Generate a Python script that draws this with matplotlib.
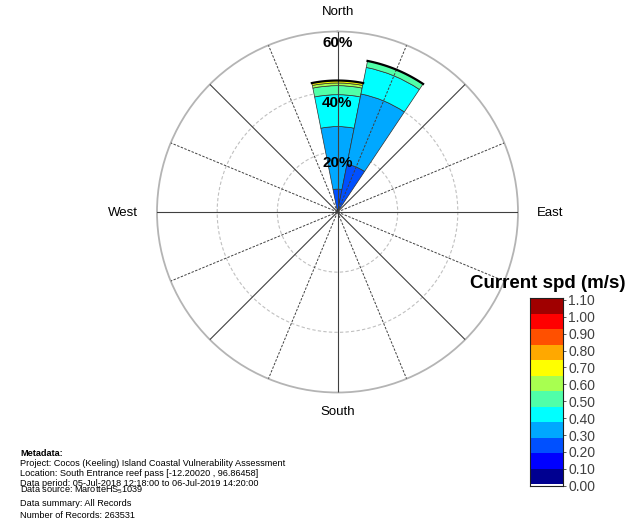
import numpy as np
import matplotlib
matplotlib.use('Agg')
import matplotlib.pyplot as plt

plt.rcParams['font.family'] = ['Liberation Sans', 'DejaVu Sans']
plt.rcParams['mathtext.fontset'] = 'custom'
plt.rcParams['mathtext.rm'] = 'Liberation Sans'
plt.rcParams['mathtext.it'] = 'Liberation Sans'

# ---------------- data ----------------
speed_edges = [0.00, 0.10, 0.20, 0.30, 0.40, 0.50, 0.60, 0.70, 0.80, 0.90, 1.00, 1.10]
speed_colors = ['#000090', '#0000ff', '#0050ff', '#00a8ff', '#00ffff', '#50ffa8',
                '#a8ff50', '#ffff00', '#ffa800', '#ff5000', '#ff0000', '#a00000']
dir_centers = [0.0, 22.5]          # degrees (North, NNE)
freq_N   = [0.2, 0.5, 6.9, 20.8, 10.6, 3.0, 0.9, 0.8, 0.0, 0.0, 0.0, 0.0]
freq_NNE = [0.0, 0.0, 16.2, 23.8, 9.0, 2.2, 0.0, 0.0, 0.0, 0.0, 0.0, 0.0]
freq_table = [freq_N, freq_NNE]
ring_levels = [20, 40, 60]
sector_width = 22.5
compass_labels = ['North', 'East', 'South', 'West']

metadata_lines = [
    'Project: Cocos (Keeling) Island Coastal Vulnerability Assessment',
    'Location: South Entrance reef pass [-12.20020 , 96.86458]',
    'Data period: 05-Jul-2018 12:18:00 to 06-Jul-2019 14:20:00',
    r'Data source: MarotteHS$_5$1039',
    'Data summary: All Records',
    'Number of Records: 263531',
]

# ---------------- figure ----------------
W, H = 635, 525
fig = plt.figure(figsize=(W / 100, H / 100), dpi=100)
fig.patch.set_facecolor('white')

cx, cy, R = 337.5, 212.0, 180.5
ax = fig.add_axes([(cx - R) / W, 1 - (cy + R) / H, 2 * R / W, 2 * R / H],
                  projection='polar')
ax.set_theta_zero_location('N')
ax.set_theta_direction(-1)
ax.set_ylim(0, 60)
ax.grid(False)
ax.set_xticks([])
ax.set_yticks([])
ax.spines['polar'].set_color('#b4b4b4')
ax.spines['polar'].set_linewidth(1.3)

# bars
w = np.deg2rad(sector_width)
for d, freqs in zip(dir_centers, freq_table):
    th = np.deg2rad(d)
    bottom = 0.0
    for f, c in zip(freqs, speed_colors):
        if f > 0:
            ax.bar(th, f, width=w, bottom=bottom, color=c, edgecolor='#303030',
                   linewidth=0.5, zorder=2)
        bottom += f
    arc = np.linspace(th - w / 2, th + w / 2, 60)
    ax.plot(arc, np.full_like(arc, bottom), color='black', lw=1.6, zorder=4)

# rings
full = np.linspace(0, 2 * np.pi, 400)
for r in ring_levels[:-1]:
    ax.plot(full, np.full_like(full, r), color='#c0c0c0', lw=0.8,
            ls=(0, (3, 2)), zorder=1)

# spokes
for i in range(16):
    a = np.deg2rad(i * 22.5)
    if i % 2 == 0:
        ax.plot([a, a], [0, 60], color='#404040', lw=0.8, zorder=3)
    else:
        ax.plot([a, a], [0, 60], color='#404040', lw=0.7, ls=(0, (2.5, 1.5)), zorder=3)

# ring labels
for r in ring_levels:
    ax.text(0, r - 1.5, f'{r}%', ha='center', va='top', fontsize=11,
            fontweight='bold', zorder=6)

# compass labels
fig.text(338 / W, 1 - 12 / H, compass_labels[0], ha='center', va='center', fontsize=9.5)
fig.text(550 / W, 1 - 213 / H, compass_labels[1], ha='center', va='center', fontsize=9.5)
fig.text(338 / W, 1 - 412 / H, compass_labels[2], ha='center', va='center', fontsize=9.5)
fig.text(123 / W, 1 - 213 / H, compass_labels[3], ha='center', va='center', fontsize=9.5)

# colorbar
x0, x1, y0, y1 = 530, 562.7, 298.3, 485.7
cax = fig.add_axes([x0 / W, 1 - y1 / H, (x1 - x0) / W, (y1 - y0) / H])
for i, c in enumerate(speed_colors):
    cax.bar(0, 1, bottom=i, width=1, color=c, edgecolor='none')
cax.set_xlim(-0.5, 0.5)
cax.set_ylim(0, len(speed_colors))
cax.set_xticks([])
cax.yaxis.tick_right()
cax.set_yticks(np.linspace(0, len(speed_colors), len(speed_edges)) - 0.1)
cax.set_yticklabels([f'{v:.2f}' for v in speed_edges], fontsize=10, color='#404040')
cax.tick_params(axis='y', length=2, width=0.6, pad=2, color='#404040')
for s in cax.spines.values():
    s.set_linewidth(0.8)
    s.set_color('#202020')
fig.text(547.5 / W, 1 - 283 / H, 'Current spd (m/s)', ha='center', va='center',
         fontsize=13.5, fontweight='bold')

# metadata
fig.text(20 / W, 1 - 453 / H, 'Metadata:', ha='left', va='center', fontsize=6.6,
         fontweight='bold')
meta_y = [463, 473, 483, 490, 504, 516]
for yy, line in zip(meta_y, metadata_lines):
    fig.text(20 / W, 1 - yy / H, line, ha='left', va='center', fontsize=6.6)

fig.savefig('out.png', dpi=100, facecolor='white')
